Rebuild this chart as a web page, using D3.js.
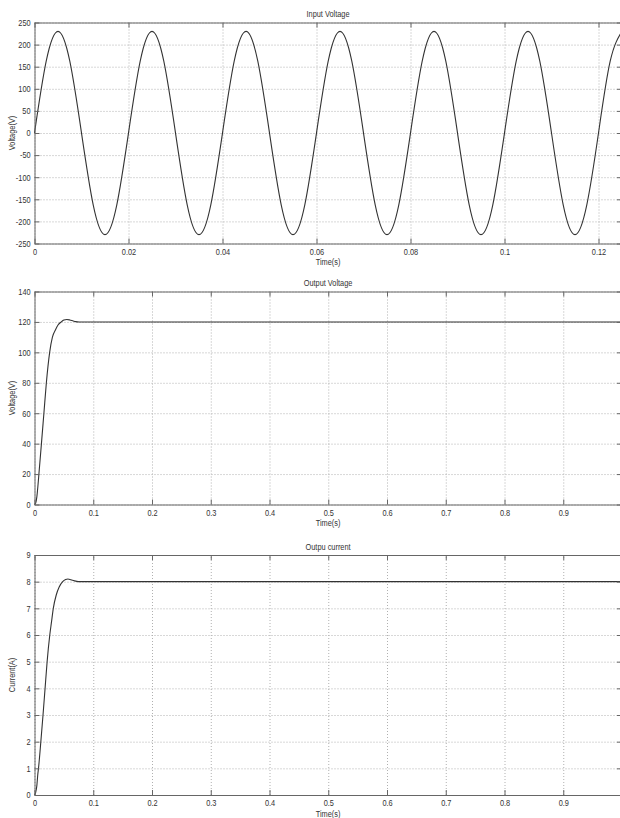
<!DOCTYPE html>
<html>
<head>
<meta charset="utf-8">
<title>Input / Output waveforms</title>
<script src="https://cdn.jsdelivr.net/npm/d3@7"></script>
<style>
	body { margin: 0; background: #fff; }
	svg text { font-family: "Liberation Sans", Arial, sans-serif; fill: #333; }
	/* the plot uses a narrow face, so squeeze the text a little */
	svg text.sq { transform-box: fill-box; transform-origin: center; transform: scaleX(0.82); }
	.grid line { stroke: #b0b0b0; stroke-dasharray: 1,2; }
	.grid path { display: none; }
	.ax path, .ax line { stroke: #666; }
	.ax text { font-size: 9px; }
</style>
</head>
<body>
<div id="chart"></div>
<script>
// ---- data ----
// input voltage, sampled every 0.0025 s
var inputStep = 0.0025;
var inputV = [0, 163, 230, 163, 0, -163, -230, -163,
	0, 163, 230, 163, 0, -163, -230, -163,
	0, 163, 230, 163, 0, -163, -230, -163,
	0, 163, 230, 163, 0, -163, -230, -163,
	0, 163, 230, 163, 0, -163, -230, -163,
	0, 163, 230, 163, 0, -163, -230, -163,
	0, 163, 230];

// output voltage
var outT = [0, 0.002, 0.004, 0.006, 0.0075, 0.0118, 0.016, 0.0202, 0.0258, 0.0305, 0.036, 0.040, 0.0455, 0.050, 0.055, 0.060, 0.066, 0.070, 0.076, 1];
var outV = [0, 1, 5, 13, 20, 40, 60, 80, 100, 110, 115, 118, 120, 121.2, 121.6, 121.3, 120.6, 120.2, 120, 120];

// output current
var curT = [0, 0.002, 0.004, 0.0055, 0.0068, 0.0108, 0.0145, 0.018, 0.0215, 0.026, 0.029, 0.032, 0.037, 0.042, 0.048, 0.053, 0.057, 0.062, 0.068, 0.072, 0.076, 1];
var curI = [0, 0.1, 0.35, 0.75, 1, 2, 3, 4, 5, 6, 6.5, 7, 7.5, 7.8, 8, 8.08, 8.1, 8.07, 8.03, 8.01, 8, 8];

var inputTicksX = [0, 0.02, 0.04, 0.06, 0.08, 0.1, 0.12];
var inputTicksY = [-250, -200, -150, -100, -50, 0, 50, 100, 150, 200, 250];
var outTicksX = [0, 0.1, 0.2, 0.3, 0.4, 0.5, 0.6, 0.7, 0.8, 0.9, 1];
var outTicksY = [0, 20, 40, 60, 80, 100, 120, 140];
var curTicksY = [0, 1, 2, 3, 4, 5, 6, 7, 8, 9];

var W = 620, H = 818;
var svg = d3.select("#chart").append("svg")
	.attr("width", W)
	.attr("height", H);

var fmtY = function(d) { return String(+d.toFixed(3)); };
// the x "1" sits on the cut right edge, so leave its label out
var fmtX = function(d) { return d >= 1 ? "" : String(+d.toFixed(3)); };

// one panel: box, dotted grid, inward ticks on all sides, curve
function panel(o) {
	var x = d3.scaleLinear().domain(o.xDomain).range([34.5, 622]);
	var y = d3.scaleLinear().domain(o.yDomain).range([o.bottom, o.top]);
	var h = o.bottom - o.top, w = 622 - 34.5;
	var g = svg.append("g");

	g.append("g").attr("class", "grid")
		.attr("transform", "translate(0," + o.bottom + ")")
		.call(d3.axisBottom(x).tickValues(o.xTicks).tickSize(-h).tickFormat(""));
	g.append("g").attr("class", "grid")
		.attr("transform", "translate(34.5,0)")
		.call(d3.axisLeft(y).tickValues(o.yTicks).tickSize(-w).tickFormat(""));

	g.append("path")
		.datum(o.t.map(function(t, i) { return [t, o.v[i]]; }))
		.attr("fill", "none")
		.attr("stroke", "#333")
		.attr("stroke-width", 1.1)
		.attr("d", d3.line()
			.x(function(d) { return x(d[0]); })
			.y(function(d) { return y(d[1]); })
			.curve(o.curve));

	var bx = g.append("g").attr("class", "ax")
		.attr("transform", "translate(0," + o.bottom + ")")
		.call(d3.axisBottom(x).tickValues(o.xTicks).tickSize(-5).tickSizeOuter(0).tickPadding(5).tickFormat(fmtX));
	g.append("g").attr("class", "ax")
		.attr("transform", "translate(0," + o.top + ")")
		.call(d3.axisTop(x).tickValues(o.xTicks).tickSize(-5).tickSizeOuter(0).tickFormat(""));
	var ly = g.append("g").attr("class", "ax")
		.attr("transform", "translate(34.5,0)")
		.call(d3.axisLeft(y).tickValues(o.yTicks).tickSize(-5).tickSizeOuter(0).tickPadding(4).tickFormat(fmtY));
	g.append("g").attr("class", "ax")
		.attr("transform", "translate(622,0)")
		.call(d3.axisRight(y).tickValues(o.yTicks).tickSize(-5).tickSizeOuter(0).tickFormat(""));
	bx.selectAll("text").classed("sq", true);
	ly.selectAll("text").classed("sq", true)
		.style("transform-origin", "right center");

	g.append("text")
		.attr("class", "sq")
		.attr("x", 328).attr("y", o.top - 5)
		.attr("text-anchor", "middle")
		.attr("font-size", 9)
		.text(o.title);
	g.append("text")
		.attr("class", "sq")
		.attr("x", 328).attr("y", o.bottom + 22)
		.attr("text-anchor", "middle")
		.attr("font-size", 9)
		.text("Time(s)");
	g.append("g")
		.attr("transform", "translate(15," + (o.top + o.bottom) / 2 + ") rotate(-90)")
		.append("text")
		.attr("class", "sq")
		.attr("text-anchor", "middle")
		.attr("font-size", 9)
		.text(o.yLabel);
}

panel({
	title: "Input Voltage", yLabel: "Voltage(V)",
	top: 22.5, bottom: 243.5,
	xDomain: [0, 0.125], yDomain: [-250, 250],
	xTicks: inputTicksX, yTicks: inputTicksY,
	t: inputV.map(function(v, i) { return i * inputStep; }), v: inputV,
	curve: d3.curveNatural
});

panel({
	title: "Output Voltage", yLabel: "Voltage(V)",
	top: 291.5, bottom: 504.5,
	xDomain: [0, 1], yDomain: [0, 140],
	xTicks: outTicksX, yTicks: outTicksY,
	t: outT, v: outV,
	curve: d3.curveMonotoneX
});

panel({
	title: "Outpu current", yLabel: "Current(A)",
	top: 555, bottom: 795,
	xDomain: [0, 1], yDomain: [0, 9],
	xTicks: outTicksX, yTicks: curTicksY,
	t: curT, v: curI,
	curve: d3.curveMonotoneX
});
</script>
</body>
</html>
